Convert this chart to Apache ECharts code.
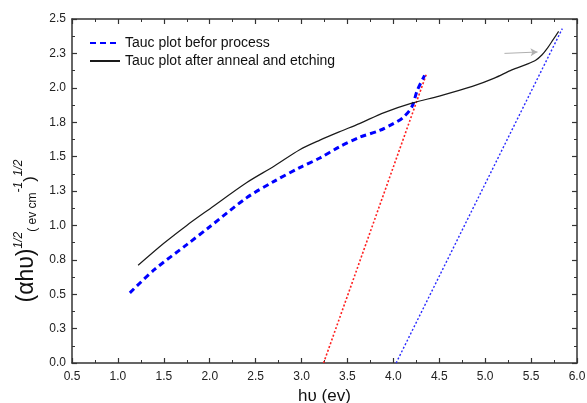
<!DOCTYPE html>
<html>
<head>
<meta charset="utf-8">
<script src="https://cdn.jsdelivr.net/npm/echarts@6/dist/echarts.min.js"></script>
<style>
  html, body { margin: 0; padding: 0; background: #fff; }
  #chart { width: 587px; height: 403px; }
</style>
</head>
<body>
<div id="chart"></div>
<script>
// values, [hv, (ahv)^1/2]
const beforeProcess = [
  [1.13, 0.51], [1.4, 0.68], [1.75, 0.86], [2.0, 0.99], [2.4, 1.2],
  [2.7, 1.32], [2.98, 1.42], [3.2, 1.49], [3.41, 1.57], [3.63, 1.64],
  [3.85, 1.69], [4.0, 1.74], [4.1, 1.78], [4.2, 1.86], [4.26, 1.98],
  [4.34, 2.09],
]
const afterAnneal = [
  [1.22, 0.71], [1.5, 0.87], [1.75, 1.0], [2.0, 1.12], [2.4, 1.31],
  [2.7, 1.43], [2.98, 1.55], [3.2, 1.62], [3.41, 1.68], [3.63, 1.74],
  [3.9, 1.82], [4.21, 1.89], [4.5, 1.94], [4.86, 2.01], [5.1, 2.07],
  [5.29, 2.13], [5.45, 2.17], [5.55, 2.2], [5.62, 2.24], [5.68, 2.29],
  [5.74, 2.35], [5.8, 2.41],
]
const fitBefore = [[3.24, 0], [4.36, 2.1]]
const fitAfter = [[4.03, 0], [5.84, 2.43]]
const arrowLine = [[5.21, 2.25], [5.57, 2.26]]

const seriesNames = ['Tauc plot befor process', 'Tauc plot after anneal and etching']
const yTickLabels = ['0.0', '0.3', '0.5', '0.8', '1.0', '1.3', '1.5', '1.8', '2.0', '2.3', '2.5']

const font = 'Liberation Sans, Arial'
const axisColor = '#333'

// fresh objects for every axis, echarts doesn't like shared ones
function frame(extra) {
  return Object.assign({
    type: 'value',
    axisLine: { show: true, onZero: false, lineStyle: { color: axisColor, width: 1.5 } },
    axisTick: { show: true, inside: true, length: 5, lineStyle: { color: axisColor, width: 1.2 } },
    minorTick: { show: true, splitNumber: 2, length: 3, lineStyle: { color: axisColor, width: 1 } },
    axisLabel: { show: false },
    splitLine: { show: false },
  }, extra)
}

const chart = echarts.init(document.getElementById('chart'))
chart.setOption({
  animation: false,
  backgroundColor: '#fff',
  grid: { left: 72, right: 10, top: 19, bottom: 40, outerBoundsMode: 'none' },
  legend: {
    data: seriesNames,
    orient: 'vertical',
    left: 84,
    top: 31,
    itemWidth: 30,
    itemHeight: 14,
    itemGap: 4,
    itemStyle: { opacity: 0 },
    textStyle: { fontFamily: font, fontSize: 14, color: '#111' },
  },
  xAxis: [
    frame({
      min: 0.5, max: 6, interval: 0.5,
      name: 'hυ (ev)', nameLocation: 'middle', nameGap: 20,
      nameTextStyle: { fontFamily: font, fontSize: 17, color: '#111' },
      axisLabel: { fontFamily: font, fontSize: 12, color: '#222', margin: 8, formatter: (v) => v.toFixed(1) },
    }),
    frame({ position: 'top', min: 0.5, max: 6, interval: 0.5 }),
  ],
  yAxis: [
    frame({
      min: 0, max: 2.5, interval: 0.25,
      name: '{a|(αhυ)}{s|1/2}{b|( ev cm}{s|-1}{c|)}{s|1/2}',
      nameLocation: 'middle', nameRotate: 90, nameGap: 32,
      nameTextStyle: {
        fontFamily: font, color: '#111',
        padding: [0, 80, 0, 0],
        rich: {
          a: { fontSize: 23, lineHeight: 26, verticalAlign: 'bottom', fontFamily: font, color: '#111' },
          s: { fontSize: 12, lineHeight: 26, verticalAlign: 'top', fontStyle: 'italic', fontFamily: font, color: '#111' },
          b: { fontSize: 12, lineHeight: 26, verticalAlign: 'bottom', fontFamily: font, color: '#111' },
          c: { fontSize: 17, lineHeight: 26, verticalAlign: 'bottom', fontFamily: font, color: '#111' },
        },
      },
      axisLabel: {
        fontFamily: font, fontSize: 12, color: '#222', margin: 6,
        formatter: (v) => yTickLabels[Math.round(v / 0.25)],
      },
    }),
    frame({ position: 'right', min: 0, max: 2.5, interval: 0.25 }),
  ],
  series: [
    {
      name: seriesNames[0], type: 'line', data: beforeProcess, smooth: 0.3,
      showSymbol: false, symbol: 'none',
      lineStyle: { color: '#0000ff', width: 3, type: [6, 4] },
      itemStyle: { color: '#0000ff' },
      z: 3,
    },
    {
      name: seriesNames[1], type: 'line', data: afterAnneal, smooth: 0.3,
      showSymbol: false, symbol: 'none',
      lineStyle: { color: '#1a1a1a', width: 1.2 },
      itemStyle: { color: '#1a1a1a' },
      markLine: {
        silent: true, symbol: ['none', 'arrow'], symbolSize: [6, 7],
        label: { show: false },
        lineStyle: { color: '#b0b0b0', width: 1, type: 'solid' },
        data: [[{ coord: arrowLine[0] }, { coord: arrowLine[1] }]],
      },
      z: 4,
    },
    {
      name: 'fitBefore', type: 'line', data: fitBefore, showSymbol: false, symbol: 'none',
      lineStyle: { color: '#ff2020', width: 1.6, type: [2, 2] }, z: 2,
    },
    {
      name: 'fitAfter', type: 'line', data: fitAfter, showSymbol: false, symbol: 'none',
      lineStyle: { color: '#2a2aff', width: 1.4, type: [2, 2] }, z: 2,
    },
  ],
})
</script>
</body>
</html>
